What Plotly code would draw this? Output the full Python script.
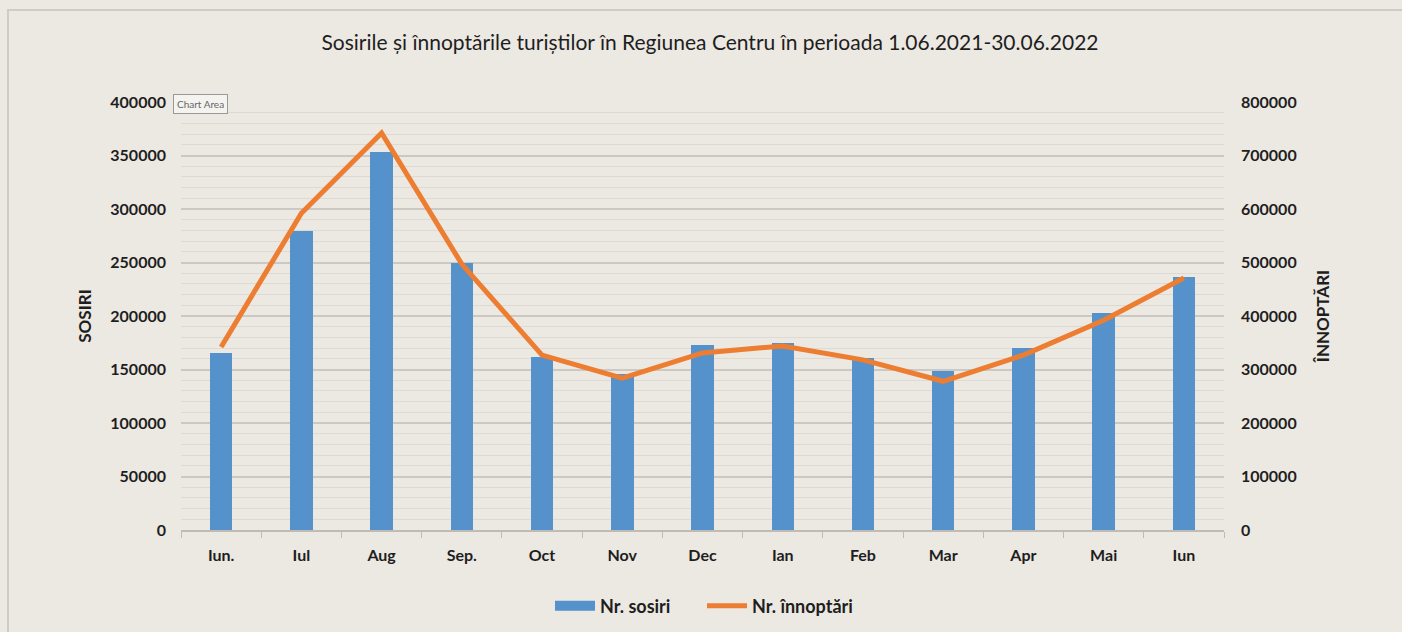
import plotly.graph_objects as go

luni = ['Iun.', 'Iul', 'Aug', 'Sep.', 'Oct', 'Nov', 'Dec', 'Ian', 'Feb', 'Mar', 'Apr', 'Mai', 'Iun']
sosiri = [165000, 279000, 353000, 250000, 162000, 146000, 173000, 175000, 161000, 149000, 170000, 203000, 236000]
innoptari = [342000, 592000, 742000, 497000, 327000, 284000, 331000, 344000, 318000, 278000, 327000, 392000, 471000]

W, H = 1402, 632
L, R, T, B = 181, 1224, 102, 530

def px(x):
    return (x - L) / (R - L)

def py(y):
    return (B - y) / (B - T)

bg = '#ECE8E2'
font = 'Lato, "Open Sans", sans-serif'
txt = '#1E1E1E'
blue = '#5592CB'
orange = '#ED7D31'

fig = go.Figure()
fig.add_trace(go.Bar(x=luni, y=sosiri, name='Nr. sosiri', marker=dict(color=blue, line=dict(width=0)),
                     width=0.28, yaxis='y', showlegend=False))
# legend entry drawn as a wide bar swatch, like Excel
fig.add_trace(go.Scatter(x=[None], y=[None], name='Nr. sosiri', mode='lines',
                         line=dict(color=blue, width=12), yaxis='y'))
fig.add_trace(go.Scatter(x=luni, y=innoptari, name='Nr. înnoptări', mode='lines',
                         line=dict(color=orange, width=5), yaxis='y2'))

tick_font = dict(size=16, family=font, color=txt, weight='bold')

fig.update_layout(
    width=W, height=H,
    margin=dict(l=L, r=W - R, t=T, b=H - B, autoexpand=False),
    paper_bgcolor=bg, plot_bgcolor=bg,
    font=dict(family=font, size=13, color=txt),
    title=dict(text='Sosirile și înnoptările turiștilor în Regiunea Centru în perioada 1.06.2021-30.06.2022',
               x=px(710), xanchor='center', xref='paper', y=1 - 43 / H, yanchor='middle',
               font=dict(size=21, color=txt)),
    bargap=0,
    showlegend=True,
    legend=dict(orientation='h', x=px(702), xanchor='center', y=py(606), yanchor='middle',
                font=dict(size=18, family=font, color=txt, weight='bold'), bgcolor='rgba(0,0,0,0)',
                traceorder='normal', itemwidth=40, entrywidth=97, entrywidthmode='pixels'),
    xaxis=dict(showgrid=False, showline=True, linecolor='#BFBBB6', linewidth=1.5,
               ticks='outside', tickson='boundaries', ticklen=6, tickcolor='#BFBBB6',
               tickfont=tick_font, ticklabelstandoff=10),
    yaxis=dict(range=[0, 400000], dtick=50000, showgrid=True, gridcolor='#CCC8C3', gridwidth=1.5,
               minor=dict(dtick=10000, showgrid=True, gridcolor='#DDD9D4', gridwidth=1),
               zeroline=False, showline=False, tickformat='d',
               tickfont=tick_font, ticklabelstandoff=14,
               title=dict(text='<b>SOSIRI</b>', font=dict(size=17, family=font, color=txt), standoff=14)),
    yaxis2=dict(range=[0, 800000], dtick=100000, overlaying='y', side='right', showgrid=False,
                zeroline=False, showline=False, tickformat='d',
                tickfont=tick_font, ticklabelstandoff=16,
                title=dict(text='<b>ÎNNOPTĂRI</b>', font=dict(size=17, family=font, color=txt), standoff=21)),
)

# outer chart frame
fig.add_shape(type='rect', xref='paper', yref='paper', x0=px(8), x1=px(W + 20), y0=py(H + 20), y1=py(10),
              line=dict(color='#CFCBC6', width=2), fillcolor='rgba(0,0,0,0)', layer='below')

# Excel "Chart Area" tooltip
fig.add_annotation(text='Chart Area', xref='paper', yref='paper', x=px(173), y=py(104), xanchor='left',
                   yanchor='middle', showarrow=False, font=dict(size=10, color='#666', family=font),
                   bgcolor='#F5F3F0', bordercolor='#999', borderwidth=1, borderpad=3)

fig.write_html('out.html', config={'displayModeBar': False},
               post_script="document.body.style.margin='0';")
